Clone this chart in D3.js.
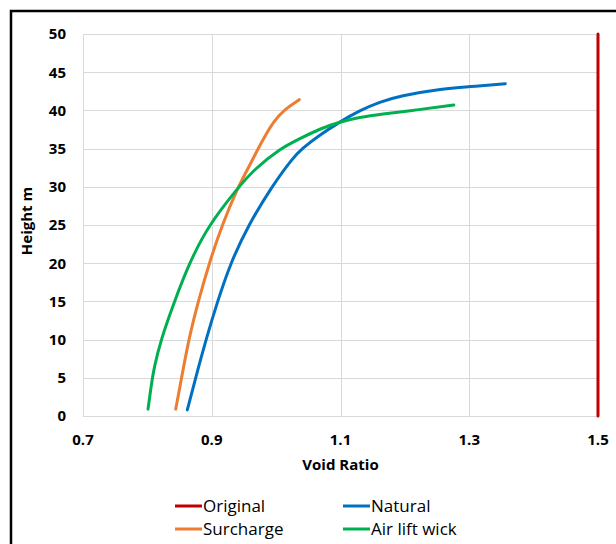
<!DOCTYPE html>
<html>
<head>
<meta charset="utf-8">
<script src="https://cdn.jsdelivr.net/npm/d3@7"></script>
<style>
  body { margin: 0; background: #fff; }
  svg { display: block; }
  .tick-label { font-family: "Open Sans", sans-serif; font-weight: bold; font-size: 15px; fill: #000; }
  .axis-title { font-family: "Open Sans", sans-serif; font-weight: bold; font-size: 15px; fill: #000; }
  .legend-text { font-family: "Open Sans", sans-serif; font-size: 17px; fill: #000; }
</style>
</head>
<body>
<div id="chart"></div>
<script>
// tick values
var xTicks = [0.7, 0.9, 1.1, 1.3, 1.5];
var yTicks = [0, 5, 10, 15, 20, 25, 30, 35, 40, 45, 50];

// series (void ratio, height m)
var originalX = [1.5, 1.5];
var originalY = [0, 50];

var naturalX = [0.862, 0.875, 0.891, 0.909, 0.929, 0.957, 0.993, 1.026, 1.040, 1.068, 1.099, 1.130, 1.161, 1.192, 1.255, 1.301, 1.356];
var naturalY = [0.8, 5, 10, 15, 20, 25, 30, 33.8, 35, 36.8, 38.5, 40.0, 41.1, 41.9, 42.8, 43.1, 43.5];

var surchargeX = [0.844, 0.851, 0.864, 0.879, 0.896, 0.916, 0.941, 0.957, 0.972, 0.985, 0.996, 1.011, 1.036];
var surchargeY = [0.9, 4, 10, 15, 20, 25, 30, 32.5, 35, 37, 38.5, 40.0, 41.4];

var airliftX = [0.801, 0.806, 0.810, 0.821, 0.842, 0.865, 0.895, 0.942, 0.965, 1.006, 1.037, 1.068, 1.099, 1.130, 1.161, 1.223, 1.276];
var airliftY = [0.9, 4, 6.2, 10, 15, 20, 25, 30, 32.2, 35, 36.3, 37.6, 38.5, 39.1, 39.5, 40.1, 40.7];

var seriesNames = ["Original", "Natural", "Surcharge", "Air lift wick"];
var seriesColors = ["#c00000", "#0070c0", "#ed7d31", "#00b050"];

function zip(xs, ys) {
  return xs.map(function(v, i) { return { x: v, y: ys[i] }; });
}

var series = [
  { name: seriesNames[0], color: seriesColors[0], values: zip(originalX, originalY) },
  { name: seriesNames[1], color: seriesColors[1], values: zip(naturalX, naturalY) },
  { name: seriesNames[2], color: seriesColors[2], values: zip(surchargeX, surchargeY) },
  { name: seriesNames[3], color: seriesColors[3], values: zip(airliftX, airliftY) }
];

var width = 616;
var height = 544;
var plot = { left: 83, right: 598, top: 34, bottom: 416 };

var svg = d3.select("#chart")
  .append("svg")
  .attr("width", width)
  .attr("height", height);

// chart area border (runs off the right and bottom edges)
svg.append("rect")
  .attr("x", 11)
  .attr("y", 11)
  .attr("width", 640)
  .attr("height", 600)
  .attr("fill", "none")
  .attr("stroke", "#000")
  .attr("stroke-width", 2.5);

var x = d3.scaleLinear()
  .domain([0.7, 1.5])
  .range([plot.left, plot.right]);

var y = d3.scaleLinear()
  .domain([0, 50])
  .range([plot.bottom, plot.top]);

// gridlines
svg.append("g")
  .selectAll("line")
  .data(yTicks)
  .enter().append("line")
  .attr("x1", plot.left)
  .attr("x2", plot.right)
  .attr("y1", function(d) { return Math.round(y(d)) + 0.5; })
  .attr("y2", function(d) { return Math.round(y(d)) + 0.5; })
  .attr("stroke", "#d9d9d9")
  .attr("stroke-width", 1);

svg.append("g")
  .selectAll("line")
  .data(xTicks)
  .enter().append("line")
  .attr("x1", function(d) { return Math.round(x(d)) + 0.5; })
  .attr("x2", function(d) { return Math.round(x(d)) + 0.5; })
  .attr("y1", plot.top)
  .attr("y2", plot.bottom)
  .attr("stroke", "#d9d9d9")
  .attr("stroke-width", 1);

// tick labels
svg.append("g")
  .selectAll("text")
  .data(yTicks)
  .enter().append("text")
  .attr("class", "tick-label")
  .attr("x", plot.left - 17)
  .attr("y", function(d) { return y(d); })
  .attr("dy", "0.36em")
  .attr("text-anchor", "end")
  .text(function(d) { return d; });

svg.append("g")
  .selectAll("text")
  .data(xTicks)
  .enter().append("text")
  .attr("class", "tick-label")
  .attr("x", function(d) { return x(d); })
  .attr("y", plot.bottom + 29)
  .attr("text-anchor", "middle")
  .text(function(d) { return d3.format(".1f")(d); });

// axis titles
svg.append("text")
  .attr("class", "axis-title")
  .attr("x", (plot.left + plot.right) / 2)
  .attr("y", 470)
  .attr("text-anchor", "middle")
  .text("Void Ratio");

svg.append("text")
  .attr("class", "axis-title")
  .attr("transform", "translate(32," + 221 + ") rotate(-90)")
  .attr("text-anchor", "middle")
  .text("Height m");

// lines (B-spline to smooth the hand-read points)
var line = d3.line()
  .x(function(d) { return x(d.x); })
  .y(function(d) { return y(d.y); })
  .curve(d3.curveBasis);

svg.append("g")
  .selectAll("path")
  .data(series)
  .enter().append("path")
  .attr("d", function(d) { return line(d.values); })
  .attr("fill", "none")
  .attr("stroke", function(d) { return d.color; })
  .attr("stroke-width", 3)
  .attr("stroke-linecap", "round");

// legend: 2 columns
var legendPos = [
  { x: 175, y: 506 },
  { x: 343, y: 506 },
  { x: 175, y: 529 },
  { x: 343, y: 529 }
];

var legend = svg.append("g")
  .selectAll("g")
  .data(series)
  .enter().append("g")
  .attr("transform", function(d, i) { return "translate(" + legendPos[i].x + "," + legendPos[i].y + ")"; });

legend.append("line")
  .attr("x1", 0)
  .attr("x2", 27)
  .attr("y1", 0)
  .attr("y2", 0)
  .attr("stroke", function(d) { return d.color; })
  .attr("stroke-width", 3);

legend.append("text")
  .attr("class", "legend-text")
  .attr("x", 28)
  .attr("y", 0)
  .attr("dy", "0.35em")
  .text(function(d) { return d.name; });
</script>
</body>
</html>
